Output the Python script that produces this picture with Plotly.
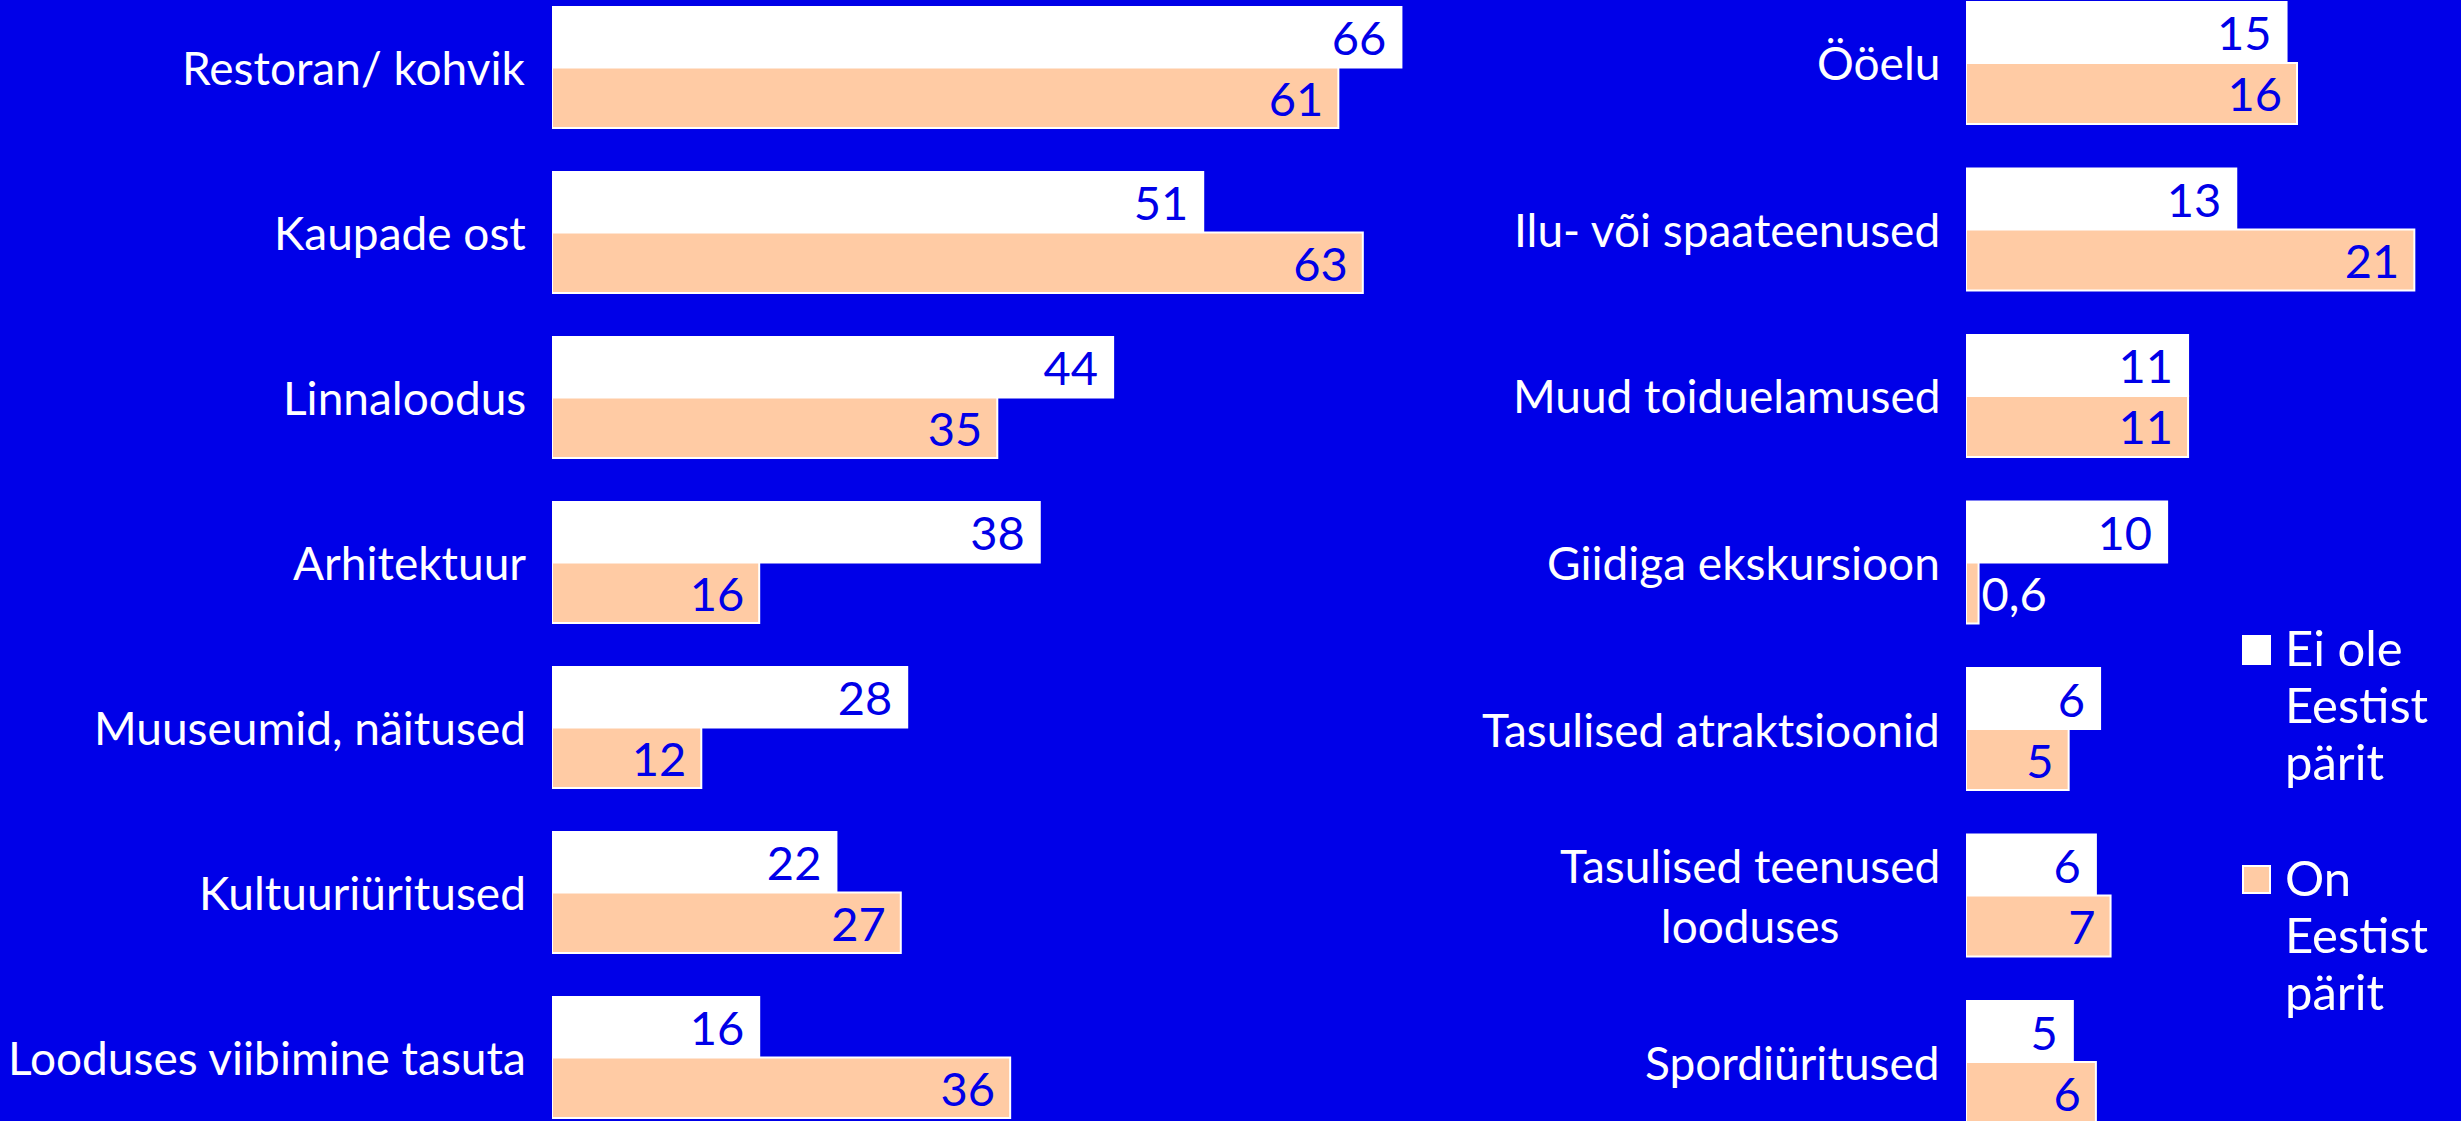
"""
Grouped horizontal bars: activities of visitors, not from Estonia vs from Estonia
"""
import plotly.graph_objects as go

BLUE = "#0000E8"
PEACH = "#FFCBA4"
FONT = "Lato"

W, H = 2461, 1121

series_names = ["Ei ole<br>Eestist<br>pärit", "On<br>Eestist<br>pärit"]

# values; the labels show them rounded
left_categories = [
    "Restoran/ kohvik",
    "Kaupade ost",
    "Linnaloodus",
    "Arhitektuur",
    "Muuseumid, näitused",
    "Kultuuriüritused",
    "Looduses viibimine tasuta",
]
left_not_estonia = [66.0, 50.6, 43.6, 37.9, 27.6, 22.1, 16.1]
left_estonia = [61.1, 63.0, 34.6, 16.1, 11.6, 27.1, 35.6]

right_categories = [
    "Ööelu",
    "Ilu- või spaateenused",
    "Muud toiduelamused",
    "Giidiga ekskursioon",
    "Tasulised atraktsioonid",
    "Tasulised teenused<br>looduses",
    "Spordiüritused",
]
right_not_estonia = [15.3, 12.9, 10.6, 9.6, 6.4, 6.2, 5.1]
right_estonia = [15.8, 21.4, 10.6, 0.6, 4.9, 6.9, 6.2]


def fmt(values):
    # whole numbers, one decimal (with comma) below 1; a small pad keeps the
    # number off the bar end
    out = []
    for v in values:
        s = f"{v:.1f}".replace(".", ",") if v < 1 else f"{round(v)}"
        out.append(s + "\u00a0")
    return out


def px_x(p):
    return p / W


def px_y(p):
    return 1 - p / H


fig = go.Figure()

panels = [
    ("x", "y", left_categories, left_not_estonia, left_estonia),
    ("x2", "y2", right_categories, right_not_estonia, right_estonia),
]
for xa, ya, cats, not_est, est in panels:
    for vals, color in [(not_est, "white"), (est, PEACH)]:
        fig.add_trace(go.Bar(
            y=cats,
            x=vals,
            orientation="h",
            xaxis=xa,
            yaxis=ya,
            marker=dict(color=color, line=dict(color="white", width=2)),
            text=fmt(vals),
            # tiny bars get their number outside, in white
            textposition=["outside" if v < 2 else "inside" for v in vals],
            textangle=0,
            constraintext="none",
            insidetextanchor="end",
            insidetextfont=dict(color=BLUE, size=47, family=FONT),
            outsidetextfont=dict(color="white", size=47, family=FONT),
            cliponaxis=False,
            showlegend=False,
        ))

# category labels, right aligned next to the bars, wrapped lines centred
annotations = []
for xa, ya, cats in [("x", "y", left_categories), ("x2", "y2", right_categories)]:
    for c in cats:
        annotations.append(dict(
            x=0, y=c, xref=xa, yref=ya,
            text=c, showarrow=False,
            xanchor="right", yanchor="middle", align="center",
            xshift=-24,
            font=dict(color="white", size=46, family=FONT),
        ))

# legend drawn by hand so the squares are as large as in the original
legend_first_line = [647, 877]
legend_box = [(636, 664), (866, 893)]
LEGEND_LINE = 57
shapes = []
for name, color, first, (t, b) in zip(series_names, ["white", PEACH], legend_first_line, legend_box):
    shapes.append(dict(
        type="rect", xref="paper", yref="paper",
        x0=px_x(2243), x1=px_x(2270), y0=px_y(b), y1=px_y(t),
        fillcolor=color, line=dict(color="white", width=2),
    ))
    for i, line in enumerate(name.split("<br>")):
        annotations.append(dict(
            x=px_x(2283), y=px_y(first + i * LEGEND_LINE), xref="paper", yref="paper",
            text=line, showarrow=False,
            xanchor="left", yanchor="middle", align="left",
            font=dict(color="white", size=49, family=FONT),
        ))

hidden = dict(showgrid=False, zeroline=False, showticklabels=False, showline=False)

fig.update_layout(
    width=W,
    height=H,
    margin=dict(l=0, r=0, t=0, b=0),
    paper_bgcolor=BLUE,
    plot_bgcolor=BLUE,
    barmode="group",
    bargap=0.267,
    bargroupgap=0,
    showlegend=False,
    font=dict(family=FONT, color="white"),
    xaxis=dict(domain=[px_x(552), px_x(1440)], range=[0, 888 / 12.87], **hidden),
    xaxis2=dict(domain=[px_x(1966), px_x(2440)], range=[0, 474 / 20.95], **hidden),
    yaxis=dict(type="category", categoryarray=left_categories,
               range=[6.385, -0.409], anchor="x", **hidden),
    yaxis2=dict(type="category", categoryarray=right_categories,
                range=[6.354, -0.378], anchor="x2", **hidden),
    annotations=annotations,
    shapes=shapes,
)

fig.write_html(
    "out.html",
    config={"displayModeBar": False},
    post_script="document.body.style.margin = '0';",
)
